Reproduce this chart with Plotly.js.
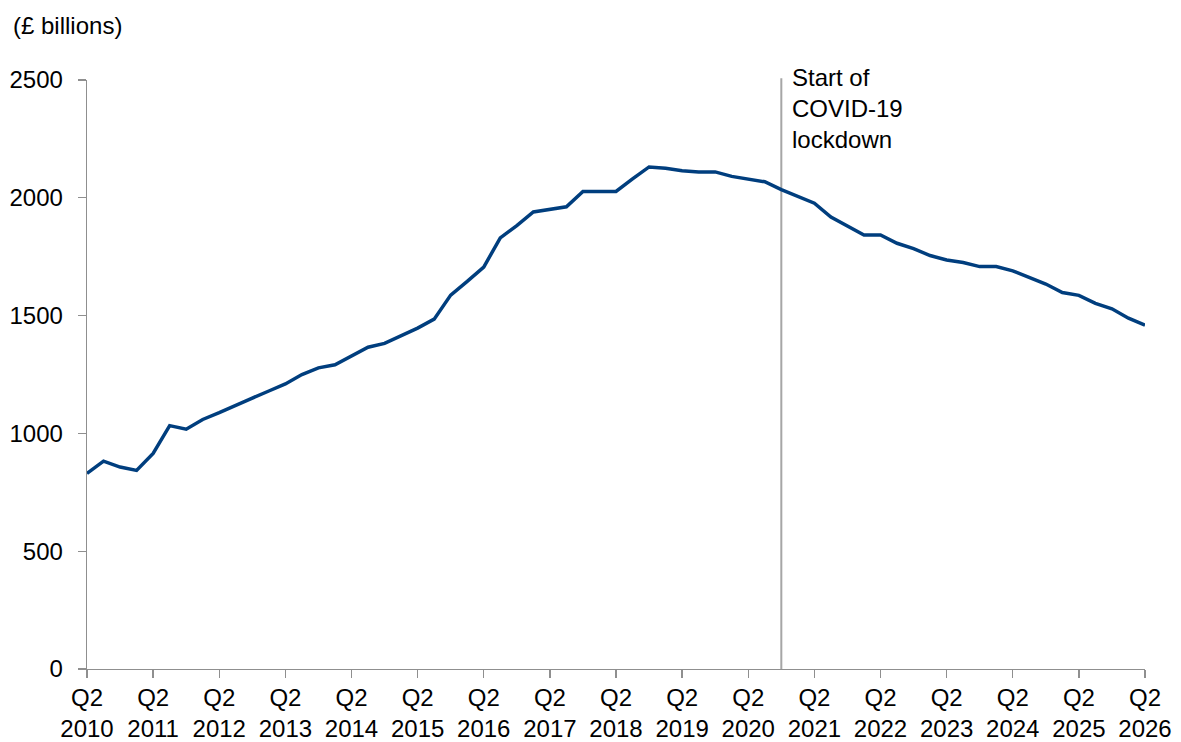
<!DOCTYPE html>
<html>
<head>
<meta charset="utf-8">
<script src="https://cdn.plot.ly/plotly-3.0.1.min.js"></script>
<style>
  html, body { margin: 0; padding: 0; background: #ffffff; }
  #chart { width: 1181px; height: 742px; }
</style>
</head>
<body>
<div id="chart"></div>
<script>
// Quarterly series, Q2 2010 to Q2 2026 (£ billions)
const firstYear = 2010;
const lastYear = 2026;
const quarterNames = ["Q1", "Q2", "Q3", "Q4"];

const values = [
  830, 882, 857, 843, 915, 1033, 1018, 1059, 1088, 1117,
  1150, 1180, 1210, 1250, 1278, 1291, 1327, 1366, 1382, 1413,
  1447, 1485, 1587, 1645, 1706, 1830, 1882, 1940, 1951, 1962,
  2027, 2027, 2027, 2080, 2131, 2125, 2115, 2110, 2110, 2091,
  2080, 2068, 2035, 2006, 1977, 1918, 1878, 1842, 1842, 1807,
  1784, 1755, 1736, 1725, 1708, 1708, 1690, 1662, 1634, 1598,
  1586, 1552, 1529, 1489, 1459
];

// Category labels for each quarter, starting at Q2 of the first year
const quarters = [];
for (let y = firstYear; y <= lastYear; y++) {
  for (let q = 0; q < 4; q++) {
    if (y === firstYear && q < 1) continue;
    if (y === lastYear && q > 1) continue;
    quarters.push(quarterNames[q] + " " + y);
  }
}

// Axis ticks: Q2 of each year
const tickQuarters = [];
const tickLabels = [];
for (let y = firstYear; y <= lastYear; y++) {
  tickQuarters.push("Q2 " + y);
  tickLabels.push("Q2<br>" + y);
}

const yTicks = [0, 500, 1000, 1500, 2000, 2500];
const lockdownQuarter = "Q4 2020";
const lockdownLabel = "Start of<br>COVID-19<br>lockdown";
const unitLabel = "(£ billions)";

const font = { family: "Liberation Sans, Arial, sans-serif", size: 24, color: "#000000" };
const axisGrey = "#8f8f8f";

const trace = {
  type: "scatter",
  mode: "lines",
  x: quarters,
  y: values,
  line: { color: "#003e7e", width: 3.5 },
  hoverinfo: "x+y"
};

const layout = {
  width: 1181,
  height: 742,
  margin: { l: 87, r: 36, t: 80, b: 73 },
  paper_bgcolor: "#ffffff",
  plot_bgcolor: "#ffffff",
  font: font,
  showlegend: false,
  xaxis: {
    type: "category",
    categoryorder: "array",
    categoryarray: quarters,
    range: [0, quarters.length - 1],
    tickmode: "array",
    tickvals: tickQuarters,
    ticktext: tickLabels,
    ticks: "outside",
    ticklen: 8,
    tickwidth: 1.3,
    tickcolor: axisGrey,
    ticklabelstandoff: -1,
    showline: true,
    linecolor: axisGrey,
    linewidth: 1.3,
    showgrid: false,
    zeroline: false,
    tickfont: font,
    fixedrange: true
  },
  yaxis: {
    range: [0, 2500],
    tickmode: "array",
    tickvals: yTicks,
    ticktext: yTicks.map(String),
    ticks: "outside",
    ticklen: 8,
    tickwidth: 1.3,
    tickcolor: axisGrey,
    ticklabelstandoff: 10,
    showline: true,
    linecolor: axisGrey,
    linewidth: 1.3,
    showgrid: false,
    zeroline: false,
    tickfont: font,
    fixedrange: true
  },
  shapes: [{
    type: "line",
    xref: "x",
    yref: "paper",
    x0: lockdownQuarter,
    x1: lockdownQuarter,
    y0: 0,
    y1: 1.003,
    line: { color: "#a6a6a6", width: 2 },
    layer: "below"
  }],
  annotations: [
    {
      xref: "x",
      yref: "paper",
      x: lockdownQuarter,
      y: 1.03,
      xanchor: "left",
      yanchor: "top",
      xshift: 9,
      align: "left",
      showarrow: false,
      text: lockdownLabel,
      font: font
    },
    {
      xref: "paper",
      yref: "paper",
      x: -0.072,
      y: 1.093,
      xanchor: "left",
      yanchor: "middle",
      showarrow: false,
      text: unitLabel,
      font: font
    }
  ]
};

Plotly.newPlot("chart", [trace], layout, { staticPlot: true, displayModeBar: false });
</script>
</body>
</html>
